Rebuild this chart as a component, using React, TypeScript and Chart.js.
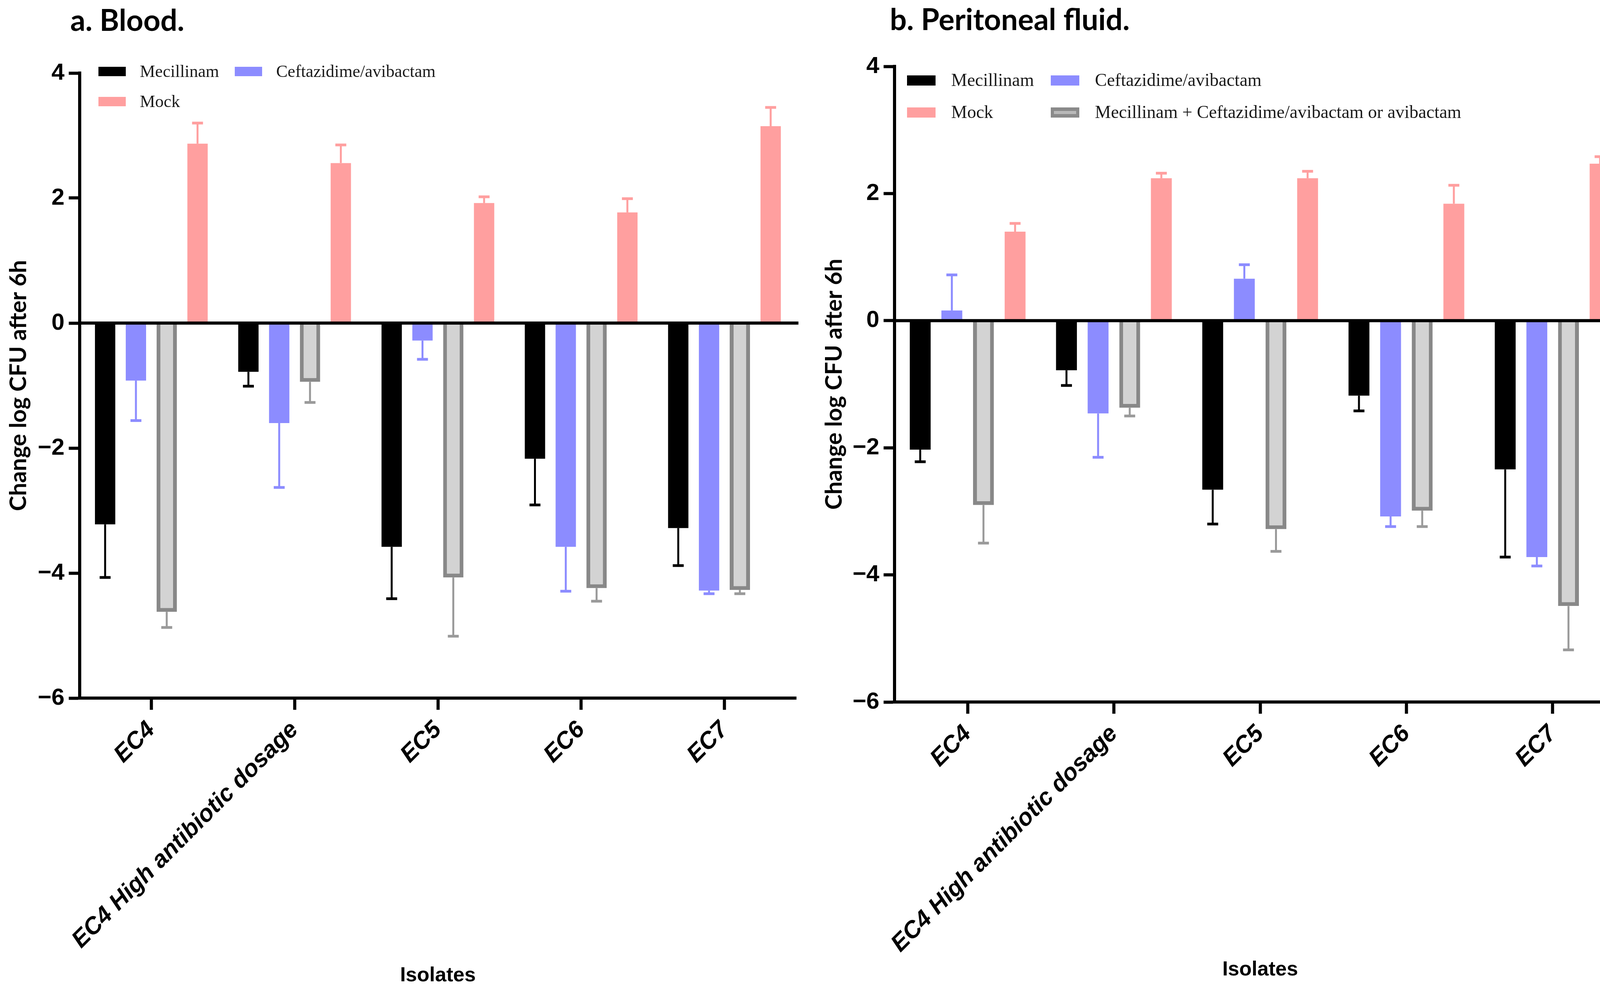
import React, { useEffect, useRef } from "react";
import { Chart, registerables } from "chart.js";

Chart.register(...registerables);

// ---------- data ----------
const categories = ["EC4", "EC4 High antibiotic dosage", "EC5", "EC6", "EC7"];
const seriesNames = [
  "Mecillinam",
  "Ceftazidime/avibactam",
  "Mecillinam + Ceftazidime/avibactam or avibactam",
  "Mock",
];
const yTickValues = [-6, -4, -2, 0, 2, 4];
const axisTitleY = "Change log CFU after 6h";
const axisTitleX = "Isolates";

// a. Blood (mean, SD)
const bloodMecillinam = [-3.22, -0.78, -3.58, -2.17, -3.28];
const bloodMecillinamSD = [0.85, 0.23, 0.83, 0.74, 0.6];
const bloodCeftazidime = [-0.92, -1.6, -0.28, -3.58, -4.28];
const bloodCeftazidimeSD = [0.64, 1.03, 0.3, 0.71, 0.05];
const bloodCombination = [-4.62, -0.94, -4.07, -4.24, -4.27];
const bloodCombinationSD = [0.25, 0.33, 0.94, 0.21, 0.06];
const bloodMock = [2.87, 2.56, 1.92, 1.77, 3.15];
const bloodMockSD = [0.33, 0.29, 0.1, 0.22, 0.3];

// b. Peritoneal fluid (mean, SD)
const peritMecillinam = [-2.03, -0.78, -2.66, -1.18, -2.34];
const peritMecillinamSD = [0.19, 0.24, 0.54, 0.24, 1.38];
const peritCeftazidime = [0.16, -1.46, 0.66, -3.08, -3.72];
const peritCeftazidimeSD = [0.56, 0.69, 0.22, 0.16, 0.14];
const peritCombination = [-2.9, -1.37, -3.28, -2.99, -4.49];
const peritCombinationSD = [0.6, 0.13, 0.35, 0.25, 0.69];
const peritMock = [1.4, 2.24, 2.24, 1.84, 2.47];
const peritMockSD = [0.13, 0.08, 0.11, 0.29, 0.11];

// ---------- styles ----------
const PAGE_W = 4197;
const PAGE_H = 2524;

const seriesStyle = [
  { fill: "#000000", border: "#000000", borderWidth: 0, err: "#000000" },
  { fill: "#8c8cff", border: "#8c8cff", borderWidth: 0, err: "#8c8cff" },
  { fill: "#d3d3d3", border: "#888888", borderWidth: 10, err: "#9a9a9a" },
  { fill: "#ff9f9f", border: "#ff9f9f", borderWidth: 0, err: "#ff9f9f" },
];

type Panel = {
  left: number;
  width: number;
  area: { l: number; r: number; t: number; b: number };
  title: string;
  titleX: number;
  titleY: number;
  yTitleX: number;
  isolatesY: number;
  legendFont: number;
  swatch: { w: number; h: number };
  legendCols: number[];
  legendRows: number[];
  textGap: number;
  legendItems: number[][]; // [series, col, row]
  values: number[][];
  sds: number[][];
  catPct: number;
};

const panels: Panel[] = [
  {
    left: 0,
    width: 2060,
    area: { l: 204, r: 2038, t: 187, b: 1787 },
    title: "a. Blood.",
    titleX: 180,
    titleY: 79,
    yTitleX: 48,
    isolatesY: 2512,
    legendFont: 44,
    swatch: { w: 70, h: 24 },
    legendCols: [252, 601],
    legendRows: [183, 260],
    textGap: 106,
    legendItems: [
      [0, 0, 0],
      [1, 1, 0],
      [3, 0, 1],
    ],
    values: [bloodMecillinam, bloodCeftazidime, bloodCombination, bloodMock],
    sds: [bloodMecillinamSD, bloodCeftazidimeSD, bloodCombinationSD, bloodMockSD],
    catPct: 0.86,
  },
  {
    left: 2060,
    width: 2137,
    area: { l: 2290, r: 4162, t: 170, b: 1797 },
    title: "b. Peritoneal fluid.",
    titleX: 2278,
    titleY: 77,
    yTitleX: 2136,
    isolatesY: 2497,
    legendFont: 46,
    swatch: { w: 73, h: 26 },
    legendCols: [2322, 2690],
    legendRows: [206, 288],
    textGap: 113,
    legendItems: [
      [0, 0, 0],
      [1, 1, 0],
      [3, 0, 1],
      [2, 1, 1],
    ],
    values: [peritMecillinam, peritCeftazidime, peritCombination, peritMock],
    sds: [peritMecillinamSD, peritCeftazidimeSD, peritCombinationSD, peritMockSD],
    catPct: 0.865,
  },
];

function fmtTick(v: number) {
  return v < 0 ? "\u2212" + Math.abs(v) : String(v);
}

function makeDecor(p: Panel) {
  return {
    id: "decor",
    afterDatasetsDraw(chart: any) {
      const ctx = chart.ctx as CanvasRenderingContext2D;
      const y = chart.scales.y;
      const area = chart.chartArea;
      chart.data.datasets.forEach((ds: any, i: number) => {
        const meta = chart.getDatasetMeta(i);
        meta.data.forEach((el: any, j: number) => {
          const v = ds.data[j] as number;
          const e = ds.sd[j] as number;
          const end = v >= 0 ? v + e : v - e;
          const y0 = y.getPixelForValue(v);
          const y1 = y.getPixelForValue(end);
          ctx.save();
          ctx.strokeStyle = ds.errColor;
          ctx.lineWidth = 5;
          ctx.beginPath();
          ctx.moveTo(el.x, y0);
          ctx.lineTo(el.x, y1);
          ctx.stroke();
          ctx.lineWidth = 7;
          ctx.beginPath();
          ctx.moveTo(el.x - 14, y1);
          ctx.lineTo(el.x + 14, y1);
          ctx.stroke();
          ctx.restore();
        });
      });
      // zero line
      const z = y.getPixelForValue(0);
      ctx.save();
      ctx.fillStyle = "#000";
      ctx.fillRect(area.left, z - 4, area.right - area.left + 6, 8);
      ctx.restore();
    },
    afterDraw(chart: any) {
      const ctx = chart.ctx as CanvasRenderingContext2D;
      const area = chart.chartArea;
      const off = p.left;
      ctx.save();
      // panel title
      ctx.fillStyle = "#000";
      ctx.font = "bold 76px Lato";
      ctx.textAlign = "left";
      ctx.textBaseline = "alphabetic";
      ctx.fillText(p.title, p.titleX - off, p.titleY);
      // y axis title
      ctx.save();
      ctx.translate(p.yTitleX - off, (area.top + area.bottom) / 2);
      ctx.rotate(-Math.PI / 2);
      ctx.font = "bold 59px Lato";
      ctx.textAlign = "center";
      ctx.textBaseline = "middle";
      ctx.fillText(axisTitleY, 0, 0);
      ctx.restore();
      // x axis title
      ctx.font = "bold 52px 'Liberation Sans'";
      ctx.textAlign = "center";
      ctx.textBaseline = "alphabetic";
      ctx.fillText(axisTitleX, (area.left + area.right) / 2, p.isolatesY);
      // legend
      ctx.font = `${p.legendFont}px 'Liberation Serif'`;
      ctx.textAlign = "left";
      ctx.textBaseline = "middle";
      p.legendItems.forEach(([s, c, r]) => {
        const sx = p.legendCols[c] - off;
        const cy = p.legendRows[r];
        const st = seriesStyle[s];
        const w = p.swatch.w;
        const h = p.swatch.h;
        if (st.borderWidth > 0) {
          ctx.fillStyle = "#8a8a8a";
          ctx.fillRect(sx, cy - h / 2, w, h);
          ctx.fillStyle = "#b8b8b8";
          ctx.fillRect(sx + 8, cy - h / 2 + 9, w - 16, h - 18);
        } else {
          ctx.fillStyle = st.fill;
          ctx.fillRect(sx, cy - h / 2, w, h);
        }
        ctx.fillStyle = "#1a1a1a";
        ctx.fillText(seriesNames[s], sx + p.textGap, cy + 2);
      });
      ctx.restore();
    },
  };
}

function buildConfig(p: Panel): any {
  const datasets = p.values.map((vals, i) => ({
    label: seriesNames[i],
    data: vals,
    sd: p.sds[i],
    errColor: seriesStyle[i].err,
    backgroundColor: seriesStyle[i].fill,
    borderColor: seriesStyle[i].border,
    borderWidth: seriesStyle[i].borderWidth,
    barPercentage: 0.66,
    categoryPercentage: p.catPct,
  }));
  const areaLeft = p.area.l - p.left;
  const areaRight = p.area.r - p.left;
  return {
    type: "bar",
    data: { labels: categories, datasets },
    plugins: [makeDecor(p)],
    options: {
      animation: false,
      responsive: false,
      devicePixelRatio: 1,
      layout: {
        padding: { left: 0, top: p.area.t, right: p.width - areaRight, bottom: 0 },
      },
      plugins: {
        legend: { display: false },
        title: { display: false },
        tooltip: { enabled: false },
      },
      scales: {
        x: {
          type: "category",
          offset: true,
          grid: {
            offset: false,
            drawOnChartArea: false,
            drawTicks: true,
            tickLength: 30,
            tickWidth: 8,
            tickColor: "#000",
          },
          border: { display: true, color: "#000", width: 8 },
          ticks: {
            autoSkip: false,
            maxRotation: 45,
            minRotation: 45,
            padding: 16,
            color: "#000",
            font: { family: "'Liberation Sans'", size: 61, weight: "bold", style: "italic" },
          },
          afterFit(scale: any) {
            scale.height = PAGE_H - p.area.b;
          },
        },
        y: {
          type: "linear",
          min: yTickValues[0],
          max: yTickValues[yTickValues.length - 1],
          afterBuildTicks(scale: any) {
            scale.ticks = yTickValues.map((v) => ({ value: v }));
          },
          grid: {
            drawOnChartArea: false,
            drawTicks: true,
            tickLength: 28,
            tickWidth: 8,
            tickColor: "#000",
          },
          border: { display: true, color: "#000", width: 8 },
          ticks: {
            padding: 11,
            color: "#000",
            font: { family: "'Liberation Sans'", size: 60, weight: "bold" },
            callback: (v: number) => fmtTick(v),
          },
          afterFit(scale: any) {
            scale.width = areaLeft;
          },
        },
      },
    },
  };
}

function BarPanel({ p }: { p: Panel }) {
  const ref = useRef<HTMLCanvasElement>(null);
  useEffect(() => {
    const chart = new Chart(ref.current as HTMLCanvasElement, buildConfig(p));
    return () => chart.destroy();
  }, [p]);
  return (
    <canvas
      ref={ref}
      width={p.width}
      height={PAGE_H}
      style={{ position: "absolute", left: p.left, top: 0, width: p.width, height: PAGE_H }}
    />
  );
}

export default function App() {
  return (
    <div
      style={{
        position: "fixed",
        left: 0,
        top: 0,
        width: PAGE_W,
        height: PAGE_H,
        background: "#fff",
        overflow: "hidden",
      }}
    >
      {panels.map((p, i) => (
        <BarPanel key={i} p={p} />
      ))}
    </div>
  );
}
